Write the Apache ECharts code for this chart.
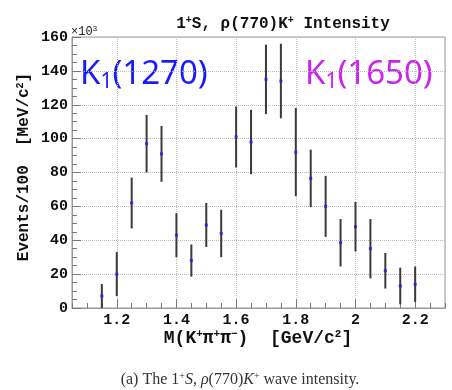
<!DOCTYPE html>
<html><head><meta charset="utf-8">
<script src="https://cdn.jsdelivr.net/npm/echarts@6/dist/echarts.min.js"></script>
<style>html,body{margin:0;padding:0;background:#fff}#c{width:452px;height:390px}</style>
</head><body><div id="c"></div>
<script>
// M(K+pi+pi-) bin centres [GeV/c^2]
const masses = [1.15,1.20,1.25,1.30,1.35,1.40,1.45,1.50,1.55,1.60,1.65,1.70,1.75,1.80,1.85,1.90,1.95,2.00,2.05,2.10,2.15,2.20];
// Intensity, events/100 MeV/c^2 (x10^3)
const intensity = [7,20,62,97,91,43,28,49,44,101,98,135,134,92,76.5,60,38.5,48,35,22,13,14];
// symmetric errors (x10^3)
const errors = [7.2,13,15,17,16.5,13,9.5,13,14,18,19,20.5,22,26,17,18,14,14.6,17.5,10.5,10.8,10.5];
const yTickValues = [0,20,40,60,80,100,120,140,160];

const mono = '"Liberation Mono", "DejaVu Sans Mono", monospace';
const serif = '"Liberation Serif", serif';
const chart = echarts.init(document.getElementById('c'), null, {renderer:'canvas'});
const pts = masses.map((m,i)=>[m,intensity[i],errors[i]]);

chart.setOption({
  animation:false,
  backgroundColor:'#fff',
  title:[{
    text:'1{s|+}S, ρ(770)K{s|+} Intensity',
    left:278, textAlign:'center', top:10,
    textStyle:{fontFamily:mono,fontWeight:'bold',fontSize:16,color:'#111',
      rich:{s:{fontFamily:mono,fontWeight:'bold',fontSize:10,color:'#111',padding:[0,0,7,0]}}}
  },{
    text:'(a) The 1{s|+}{i|S}, {i|ρ}(770){i|K}{s|+} wave intensity.',
    left:235, textAlign:'center', top:366,
    textStyle:{fontFamily:serif,fontWeight:'normal',fontSize:16,color:'#333',
      rich:{s:{fontFamily:serif,fontSize:10,color:'#333',padding:[0,0,7,0]},
            i:{fontFamily:serif,fontStyle:'italic',fontSize:16,color:'#333'}}}
  }],
  grid:{left:72,right:7,top:37,bottom:82,show:true,borderColor:'#999',borderWidth:1,backgroundColor:'transparent'},
  xAxis:[{
    type:'value',min:1.05,max:2.3,splitNumber:6,
    axisLine:{lineStyle:{color:'#999'}},
    axisTick:{inside:true,length:9,lineStyle:{color:'#777'}},
    splitLine:{show:true,lineStyle:{type:'dotted',color:'#bbb'}},
    axisLabel:{showMinLabel:false,showMaxLabel:false,margin:5,fontFamily:mono,fontWeight:'bold',fontSize:15,color:'#111'}
  },{
    type:'value',min:1.05,max:2.3,interval:0.05,position:'bottom',
    axisLine:{show:false},
    axisTick:{inside:true,length:5,lineStyle:{color:'#777'}},
    splitLine:{show:false},axisLabel:{show:false}
  }],
  yAxis:{
    type:'value',min:0,max:160,interval:20,
    axisLine:{show:true,lineStyle:{color:'#999'}},
    axisTick:{show:true,inside:true,length:9,lineStyle:{color:'#777'}},
    minorTick:{show:true,splitNumber:4,length:5,lineStyle:{color:'#777'}},
    splitLine:{show:true,lineStyle:{type:'dotted',color:'#bbb'}},
    axisLabel:{margin:4,fontFamily:mono,fontWeight:'bold',fontSize:15,color:'#111',
      formatter:v=>yTickValues.includes(v)?String(v):''}
  },
  graphic:[
    {type:'text',left:71,top:25,style:{text:'×10{s|3}',fontFamily:mono,fontSize:12,fill:'#222',
      rich:{s:{fontFamily:mono,fontSize:8,fill:'#222',padding:[0,0,5,0]}}}},
    {type:'text',x:258,y:329,style:{text:'M(K{s|+}π{s|+}π{s|−})  [GeV/c{s|2}]',align:'center',fontFamily:mono,fontWeight:'bold',fontSize:18,fill:'#111',
      rich:{s:{fontFamily:mono,fontWeight:'bold',fontSize:11,fill:'#111',padding:[0,0,8,0]}}}},
    {type:'text',x:24,y:167,rotation:Math.PI/2,style:{text:'Events/100  [MeV/c{s|2}]',align:'center',verticalAlign:'middle',fontFamily:mono,fontWeight:'bold',fontSize:16,fill:'#111',
      rich:{s:{fontFamily:mono,fontWeight:'bold',fontSize:10,fill:'#111',padding:[0,0,7,0]}}}},
    {type:'text',left:80,top:58,style:{text:'K{b|1}(1270)',fontFamily:'"Noto Sans", sans-serif',fontSize:33,fill:'#1a1aff',
      rich:{b:{fontFamily:'"Noto Sans", sans-serif',fontSize:21,fill:'#1a1aff',padding:[16,0,0,0]}}}},
    {type:'text',left:305,top:58,style:{text:'K{b|1}(1650)',fontFamily:'"Noto Sans", sans-serif',fontSize:33,fill:'#cc22ee',
      rich:{b:{fontFamily:'"Noto Sans", sans-serif',fontSize:21,fill:'#cc22ee',padding:[16,0,0,0]}}}}
  ],
  series:[{
    type:'custom',xAxisIndex:0,data:pts,z:3,
    renderItem:(params,api)=>{
      const x=api.value(0),y=api.value(1),e=api.value(2);
      const a=api.coord([x,y+e]),b=api.coord([x,Math.max(0,y-e)]);
      return {type:'line',shape:{x1:a[0],y1:a[1],x2:b[0],y2:b[1]},style:{stroke:'#3a3a3a',lineWidth:2}};
    }
  },{
    type:'scatter',xAxisIndex:0,data:pts.map(p=>[p[0],p[1]]),symbol:'rect',symbolSize:3,
    itemStyle:{color:'#1a1aff'},z:5
  }]
});
</script></body></html>
